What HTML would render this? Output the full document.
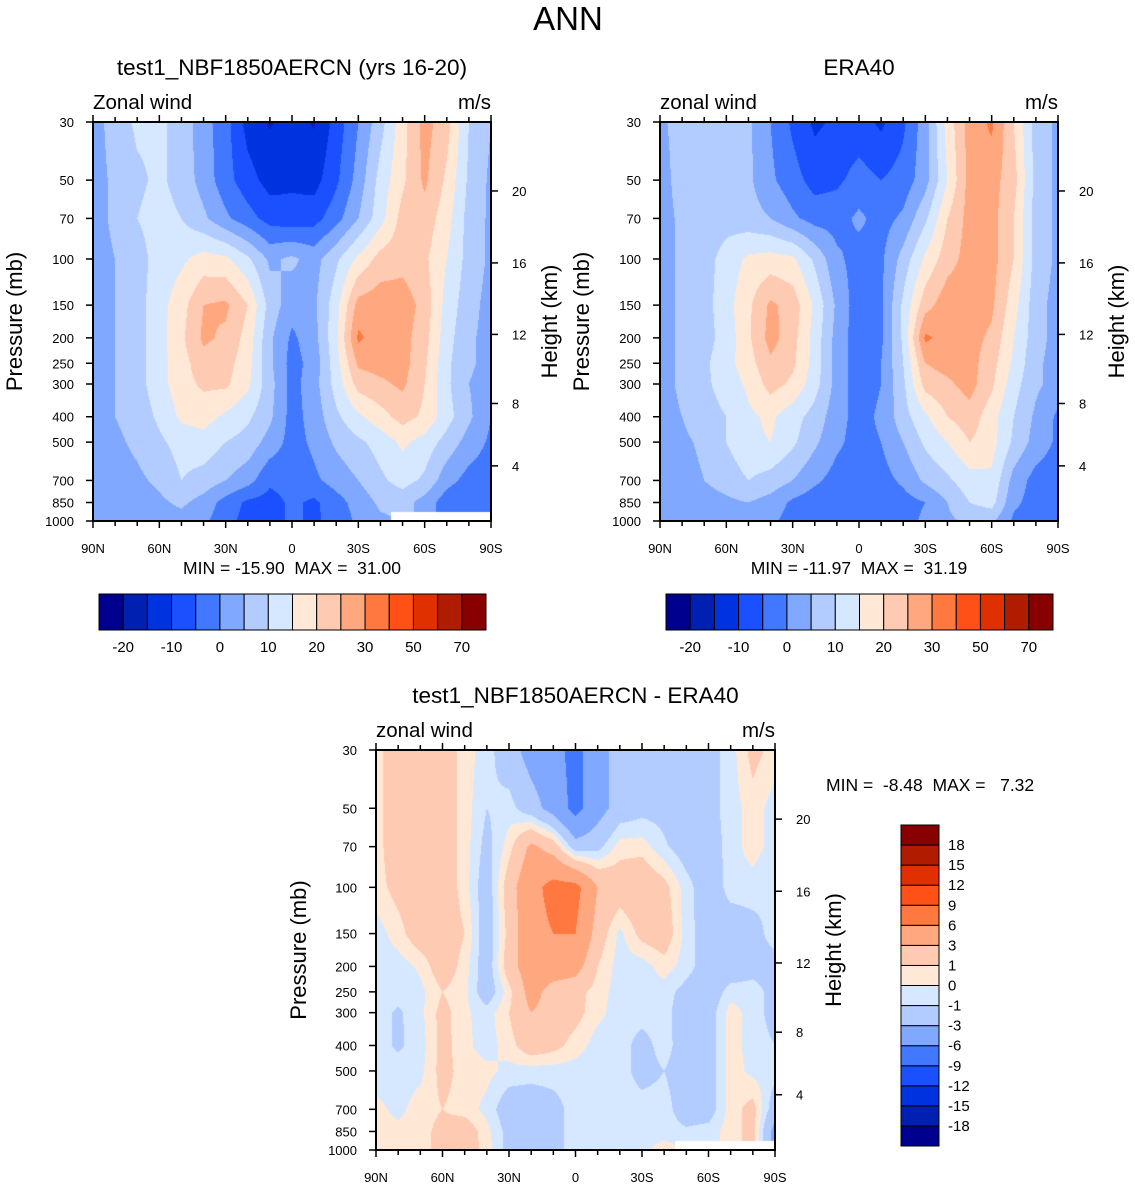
<!DOCTYPE html>
<html><head><meta charset="utf-8">
<style>
html,body{margin:0;padding:0;background:#fff;}
body{width:1135px;height:1188px;position:relative;overflow:hidden;font-family:"Liberation Sans",sans-serif;}
canvas{position:absolute;}
#ov{position:absolute;left:0;top:0;}
text{font-family:"Liberation Sans",sans-serif;fill:#000;white-space:pre;}
</style></head>
<body>
<canvas id="c1"></canvas>
<canvas id="c2"></canvas>
<canvas id="c3"></canvas>
<svg id="ov" width="1135" height="1188"></svg>
<script>
const lats=[90,80,70,60,50,40,30,20,10,0,-10,-20,-30,-40,-50,-60,-70,-80,-90];
const levels=[30,50,70,100,150,200,250,300,400,500,700,850,1000];
const model=[
[3,7,11,11,8,2,-3,-12,-15.5,-13,-15.5,-8,0,8,18,27,22,10,5],
[3,6,9,11,8,3,-3,-8,-12,-11,-12,-6,2,12,19,26,19,9,4],
[3,6,10,12,10,6,1,-3,-7,-8,-7,-2,5,13,22,23,17,8,4],
[3,5,8,12,14,17,16,11,4,6,3,9,16,22,23,21,15,8,4],
[3,5,8,13,18,25,26,20,8,2,4,13,27,28,28,23,13,7,3],
[3,5,8,13,19,26,24,18,6,-1,3,14,31,27,27,22,12,6,3],
[3,5,8,13,18,23,22,17,6,-2,2,13,26,27,27,21,11,6,3],
[3,5,8,13,18,21,21,16,7,-2,3,12,22,24,26,20,11,5,2],
[3,5,7,11,16,17,14,11,6,-2,2,9,14,18,22,19,12,6,0],
[3,4,6,9,12,13,10,8,3,-2,1,6,9,12,16,13,8,3,-1],
[3,3,4,6,10,8,5,2,-4,-3,-1,2,5,9,12,9,2,-2,-3],
[2,3,3,4,6,3,-2,-6,-7,-4,-6,-2,2,6,7,3,-3,-5,-4],
[2,2,2,3,3,1,-3,-7,-7,-4,-6,-3,1,4,null,null,null,null,null]];
const era=[
[4,7,7,7,6,0,-6,-11,-9,-8,-11,-6,3,17,27,31,20,8,4],
[3,7,7,7,6,1,-3,-7,-6,-3,-5,-3,3,15,27,27,22,8,4],
[3,6,7,8,7,5,1,-2,-2,1,-2,1,9,20,27,27,20,8,4],
[3,6,8,12,16,17,16,9,1,-2,-1,7,16,23,27,27,20,8,4],
[3,6,8,13,19,26,23,14,4,-3,-1,11,23,28,28,26,17,7,3],
[3,6,8,12,19,27,22,13,3,-3,-1,11,31,28,27,24,15,7,3],
[3,6,9,13,18,24,21,13,3,-3,0,10,25,27,27,22,14,6,3],
[3,6,9,12,16,22,19,12,3,-3,0,9,22,24,27,21,12,6,3],
[3,5,8,10,14,16,12,8,2,-2,1,8,14,20,23,17,10,4,-1],
[3,4,6,10,14,15,11,6,1,-2,0,5,11,15,20,17,9,3,-1],
[3,3,5,7,10,8,5,1,-2,-2,-2,1,6,9,13,14,3,-2,-3],
[2,3,3,4,5,3,-1,-3,-3,-3,-3,-2,0,5,10,12,1,-2,-3],
[1,1,2,3,3,1,-2,-3,-3,-3,-3,-2,1,4,6,6,-1,-2,-2]];
const diff=[
[0.5,2,2.5,2,0.5,-0.5,-2,-4,-5,-7,-4,-2,-2,-2,-2,-1.5,-0.5,1.5,0.5],
[0.5,2,2,2,0.5,-1,-0.5,-2,-4,-7,-4,-2,-1.5,-1.5,-2,-1.5,-0.5,0.5,-0.5],
[0.5,2,2,2,0.5,-1.5,0.5,3.5,2,-2,-1.5,0.5,0.5,-0.8,-1.8,-1.8,-0.5,0.5,-0.5],
[0.5,1.5,2,2,0.5,-2,2,5,7,7,3,2,2.5,1.5,-0.5,-2,-0.5,-0.5,-1],
[-0.5,0.5,2,2,1,-2,1.5,5,6,6,2,-0.3,1.5,2,-0.5,-1.8,-2,-1.5,-0.5],
[-0.5,-0.5,0.2,2,0.5,-2,2,4.5,4.5,4,1,-0.5,-0.5,0.5,-0.5,-1.8,-2,-1.5,-1.5],
[-0.5,-0.5,-0.3,1,0.3,-2,0.5,4,2,1.5,0.5,-0.5,-0.5,-0.5,-1.5,-2,-0.5,-0.5,-1.5],
[-0.5,-1.2,-0.3,1.5,0.2,-0.5,1,3,2,1.5,0.3,-0.5,-0.5,-0.5,-2,-1.8,0.5,-0.5,-1.5],
[-0.5,-1.2,-0.5,1.5,0.3,-0.5,0.5,2,1.5,0.5,-0.5,-0.5,-1.5,-0.5,-1.8,-1.8,0.5,-0.5,-1],
[-0.5,-0.5,-0.3,1.5,0.5,0.3,-0.3,-0.5,-0.5,-0.5,-0.5,-0.5,-1.5,-1,-1.8,-1.8,0.5,-0.3,-0.5],
[0.3,-0.3,0.5,1,0.5,-0.3,-2,-2,-1.5,-0.5,-0.5,-0.5,-0.5,-0.5,-1.8,-1.8,0.5,1.5,-2],
[0.5,0.3,0.5,1.5,2,0.3,-1.5,-2,-1.5,-0.5,-0.5,-0.3,-0.3,-0.5,-0.8,-0.5,0.5,1.5,-4],
[0.5,0.5,0.5,1.5,2,0.5,-1.5,-3,-1.5,-0.5,-0.5,-0.3,-0.3,0.5,null,null,null,null,null]];
const windBounds=[-20,-15,-10,-5,0,5,10,15,20,25,30,40,50,60,70];
const diffBounds=[-18,-15,-12,-9,-6,-3,-1,0,1,3,6,9,12,15,18];
const palette=["#00008e","#0020b2","#0033e0","#1a50ff","#4178ff","#80a8ff","#b2ccff","#d6e8ff","#ffe8d6","#ffcab2","#ffa880","#ff7840","#ff5018","#e03000","#b01c00","#880000"];
const windLabels=["-20","-10","0","10","20","30","50","70"];
const diffLabels=["-18","-15","-12","-9","-6","-3","-1","0","1","3","6","9","12","15","18"];
const presTicks=[30,50,70,100,150,200,250,300,400,500,700,850,1000];
const heightTicks=[4,8,12,16,20];
const heightPres=[616,356,194,103.5,55];
const latTicks=[90,60,30,0,-30,-60,-90];
const latTickLabels=["90N","60N","30N","0","30S","60S","90S"];

function hexRGB(h){return [parseInt(h.substr(1,2),16),parseInt(h.substr(3,2),16),parseInt(h.substr(5,2),16)];}
const palRGB=palette.map(hexRGB);
function bin(v,b){let k=0;while(k<b.length&&v>=b[k])k++;return k;}

function makeAxes(P){
  const L=Math.log(1000/30);
  P.yOf=p=>P.y0+P.h*Math.log(p/30)/L;
  P.xOf=lat=>P.x0+P.w*(90-lat)/180;
  return P;
}
function drawField(id,P,grid,bounds){
  const c=document.getElementById(id);
  c.width=P.w;c.height=P.h;c.style.left=P.x0+'px';c.style.top=P.y0+'px';
  const ctx=c.getContext('2d');const img=ctx.createImageData(P.w,P.h);
  const L=Math.log(1000/30);
  const lv=levels.map(p=>Math.log(p));
  for(let py=0;py<P.h;py++){
    const lp=Math.log(30)+(py+0.5)/P.h*L;
    let i=0;while(i<levels.length-2&&lp>lv[i+1])i++;
    const t=Math.min(1,Math.max(0,(lp-lv[i])/(lv[i+1]-lv[i])));
    for(let px=0;px<P.w;px++){
      const lat=90-180*(px+0.5)/P.w;
      const fj=(90-lat)/10;let j=Math.min(17,Math.floor(fj));const s=fj-j;
      const ni=t<0.5?i:i+1,nj=s<0.5?j:j+1;
      let col;
      if(grid[ni][nj]===null){col=[255,255,255];}
      else{
        const pts=[[grid[i][j],(1-t)*(1-s)],[grid[i][j+1],(1-t)*s],[grid[i+1][j],t*(1-s)],[grid[i+1][j+1],t*s]];
        let sw=0,sv=0;for(const [v,w] of pts){if(v!==null){sv+=v*w;sw+=w;}}
        col=palRGB[bin(sv/sw,bounds)];
      }
      const o=(py*P.w+px)*4;img.data[o]=col[0];img.data[o+1]=col[1];img.data[o+2]=col[2];img.data[o+3]=255;
    }
  }
  ctx.putImageData(img,0,0);
}
const svg=document.getElementById('ov');const NS="http://www.w3.org/2000/svg";
function el(tag,attrs,txt){const e=document.createElementNS(NS,tag);for(const k in attrs)e.setAttribute(k,attrs[k]);if(txt!==undefined)e.textContent=txt;svg.appendChild(e);return e;}
function txt(x,y,s,size,anchor,name,rot){
  const t=el('text',{x:x,y:y,'font-size':size,'text-anchor':anchor||'start'},s);
  if(rot)t.setAttribute('transform','rotate(-90 '+x+' '+y+')');
  
  
  return t;
}
function line(x1,y1,x2,y2,w,name){const l=el('line',{x1:x1,y1:y1,x2:x2,y2:y2,stroke:'#000','stroke-width':w||1});
  
  return l;}
function axes(P,o){
  const r=el('rect',{x:P.x0,y:P.y0,width:P.w,height:P.h,fill:'none',stroke:'#000','stroke-width':2});
  
  
  presTicks.forEach(p=>{const y=P.yOf(p);line(P.x0-7,y,P.x0,y,1.5,'y-axis-tick');txt(P.x0-19,y+5,String(p),13,'end','y-tick-label');});
  heightTicks.forEach((h,k)=>{const y=P.yOf(heightPres[k]);line(P.x0+P.w,y,P.x0+P.w+7,y,1.5,'height-tick');txt(P.x0+P.w+21,y+5,String(h),13,'start','height-tick-label');});
  for(let lat=90;lat>=-90;lat-=10){const x=P.xOf(lat);const L=lat%30===0?7:5;
    line(x,P.y0-L,x,P.y0,1.5,'x-axis-top-tick');line(x,P.y0+P.h,x,P.y0+P.h+L,1.5,'x-axis-bottom-tick');}
  latTicks.forEach((lat,k)=>txt(P.xOf(lat),P.y0+P.h+32,latTickLabels[k],13,'middle','x-tick-label'));
  txt(P.x0+P.w/2,P.y0-47,o.title,22.5,'middle',o.key+'-title');
  txt(P.x0,P.y0-13,o.var,20.5,'start',o.key+'-variable-label');
  txt(P.x0+P.w,P.y0-13,'m/s',20.5,'end',o.key+'-units-label');
  txt(o.pxl,P.y0+P.h/2,'Pressure (mb)',22,'middle',o.key+'-y-axis-title',true);
  txt(o.hxl,P.y0+P.h/2,'Height (km)',22,'middle',o.key+'-height-axis-title',true);
}
function hbar(x0,x1,y0,y1,labels,key){
  const n=palette.length,w=(x1-x0)/n;
  palette.forEach((c,k)=>{const r=el('rect',{x:x0+k*w,y:y0,width:w,height:y1-y0,fill:c,stroke:'#000','stroke-width':1});
    
    });
  labels.forEach((s,k)=>txt(x0+(2*k+1)*w,y1+22,s,15,'middle',key+'-colorbar-label'));
}
const P1=makeAxes({x0:93,y0:122,w:398,h:399});
const P2=makeAxes({x0:660,y0:122,w:398,h:399});
const P3=makeAxes({x0:376,y0:750,w:399,h:400});
drawField('c1',P1,model,windBounds);
drawField('c2',P2,era,windBounds);
drawField('c3',P3,diff,diffBounds);
txt(568,30,'ANN',33,'middle','main-title');
axes(P1,{key:'model',title:'test1_NBF1850AERCN (yrs 16-20)',var:'Zonal wind',pxl:22,hxl:557});
axes(P2,{key:'era40',title:'ERA40',var:'zonal wind',pxl:589,hxl:1124});
axes(P3,{key:'diff',title:'test1_NBF1850AERCN - ERA40',var:'zonal wind',pxl:306,hxl:841});
txt(292,574,'MIN = -15.90  MAX =  31.00',17.5,'middle','model-min-max');
txt(859,574,'MIN = -11.97  MAX =  31.19',17.5,'middle','era40-min-max');
txt(826,791,'MIN =  -8.48  MAX =   7.32',17.5,'start','diff-min-max');
hbar(99,486,594,630,windLabels,'model');
hbar(666,1053,594,630,windLabels,'era40');
(function(){const x0=901,x1=939,y0=825,y1=1146,n=palette.length,h=(y1-y0)/n;
  palette.forEach((c,k)=>{const r=el('rect',{x:x0,y:y1-(k+1)*h,width:x1-x0,height:h,fill:c,stroke:'#000','stroke-width':1});
    
    });
  diffLabels.forEach((s,k)=>txt(x1+9,y1-(k+1)*h+5,s,15,'start','diff-colorbar-label'));
})();
</script>
</body></html>
